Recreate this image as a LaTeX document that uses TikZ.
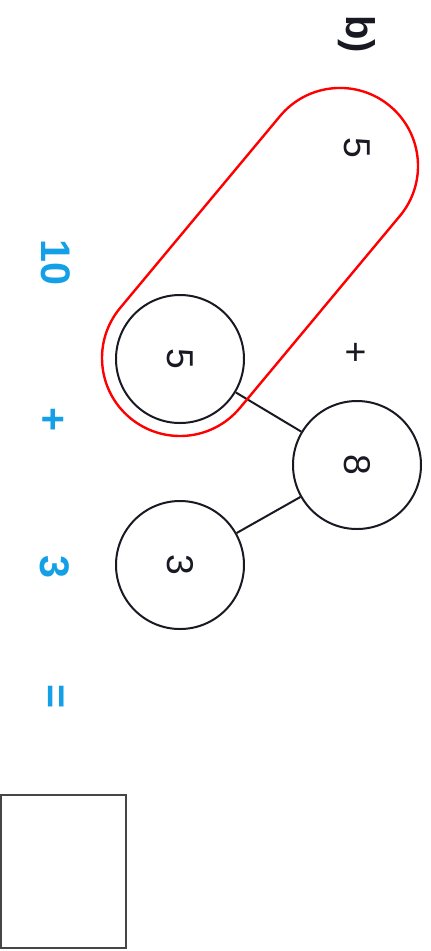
\documentclass[tikz,border=0pt]{standalone}
\usepackage{fontspec}
\setmainfont{Liberation Sans}
\definecolor{skyb}{RGB}{20,160,230}
\definecolor{ink}{RGB}{25,25,35}
\definecolor{boxgray}{RGB}{70,70,70}
\begin{document}
\begin{tikzpicture}[x=0.75pt,y=0.75pt,
  circ/.style={draw=ink,line width=1.5pt,circle,minimum size=96pt,inner sep=0pt,font=\fontsize{28}{30}\selectfont,text=ink,rotate=-90},
  blk/.style={font=\fontsize{28}{30}\selectfont,text=ink,rotate=-90,inner sep=0pt},
  blu/.style={font=\fontsize{31}{33}\selectfont\bfseries,text=skyb,rotate=-90,inner sep=0pt},
  link/.style={draw=ink,line width=1.5pt}]
\useasboundingbox (0,0) rectangle (430,-951);
% labels
\node[blk,font=\fontsize{30}{32}\selectfont\bfseries] (lab) at (357,-34) {b)};
\node[blk] (top5) at (357,-148) {5};
\node[blk] (plus) at (354,-352) {+};
% circles
\node[circ] (c5) at (180,-359) {5};
\node[circ] (c8) at (357,-465) {8};
\node[circ] (c3) at (180,-565) {3};
\draw[link] (c5) -- (c8);
\draw[link] (c3) -- (c8);
% red stadium
\begin{scope}[shift={(180,-358)},rotate=50.2]
\draw[red,line width=1.8pt] (0,-78) -- (250,-78) arc(-90:90:78) -- (0,78) arc(90:270:78) -- cycle;
\end{scope}
% blue equation
\node[blu] (b10) at (56,-262) {10};
\node[blu] (bplus) at (52,-420) {+};
\node[blu] (b3) at (55,-567) {3};
\node[blu] (beq) at (53,-697) {=};
% answer box
\node[draw=boxgray,line width=1.5pt,minimum width=93.75pt,minimum height=114.75pt,inner sep=0pt] (ans) at (63.5,-871.5) {};
\end{tikzpicture}
\end{document}
